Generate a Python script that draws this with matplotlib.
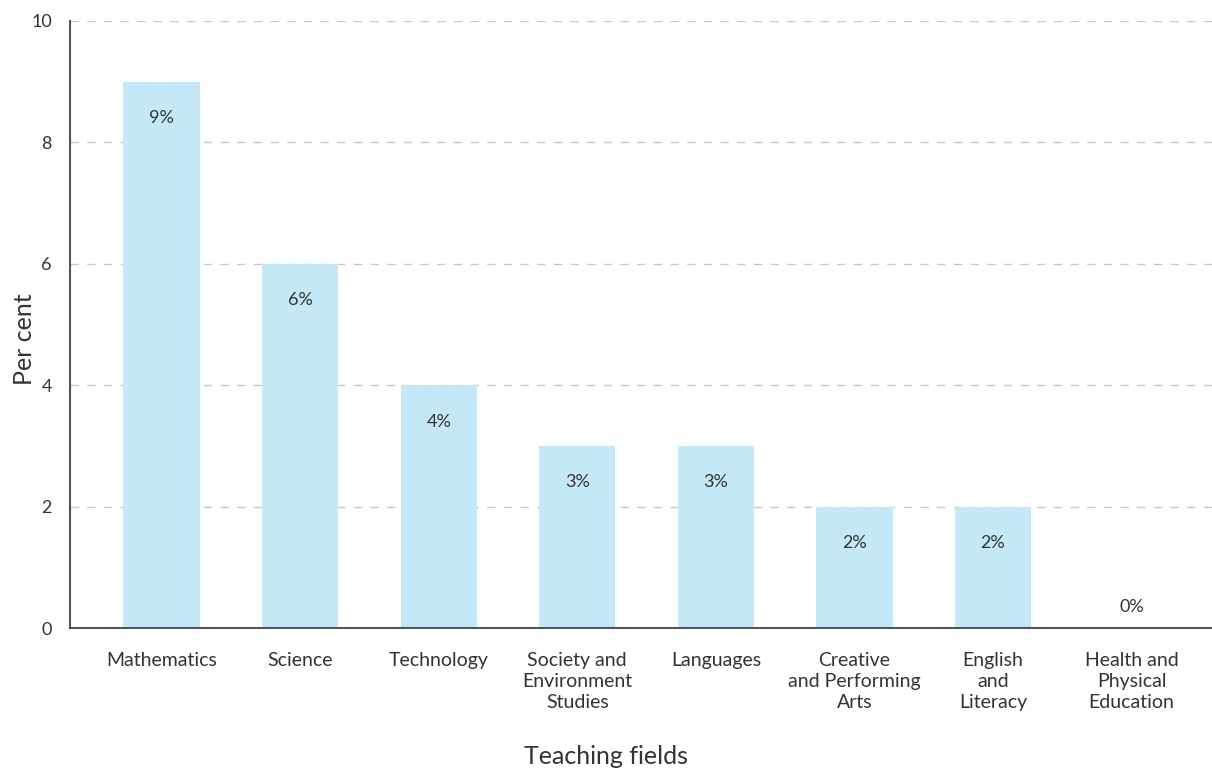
import matplotlib

matplotlib.use("Agg")
import matplotlib.pyplot as plt
import numpy as np

# data
fields = [
    "Mathematics",
    "Science",
    "Technology",
    "Society and\nEnvironment\nStudies",
    "Languages",
    "Creative\nand Performing\nArts",
    "English\nand\nLiteracy",
    "Health and\nPhysical\nEducation",
]
percent = [9, 6, 4, 3, 3, 2, 2, 0]
y_ticks = [0, 2, 4, 6, 8, 10]

plt.rcParams["font.family"] = ["Lato", "DejaVu Sans"]
text_color = "#333333"

fig = plt.figure(figsize=(12.12, 7.72), dpi=100)
ax = fig.add_axes([0.0578, 0.1865, 0.9422, 0.7863])

x = np.arange(len(fields))
ax.bar(x, percent, width=0.55, color="#c5e8f7", zorder=2)
# the zero bar shows up as a slightly heavier stretch of the baseline
ax.bar(x[-1], 0.02, width=0.75, color="#404040", zorder=3)

for xi, v in zip(x, percent):
    y = v - 0.6 if v > 0 else v + 0.35
    ax.text(xi, y, f"{v}%", ha="center", va="center", fontsize=13, color=text_color, zorder=4)

ax.set_xlim(-0.66, 7.58)
ax.set_ylim(0, 10)
ax.set_yticks(y_ticks)
ax.set_xticks(x)
ax.set_xticklabels(fields, fontsize=14, color=text_color, va="top", linespacing=1.3)
ax.tick_params(axis="x", length=0, pad=17)
ax.tick_params(axis="y", length=0, pad=13, labelsize=13, labelcolor=text_color)

ax.grid(axis="y", ls=(0, (6, 6)), color="#c8c8c8", lw=1, zorder=0)
for side in ("top", "right"):
    ax.spines[side].set_visible(False)
for side in ("left", "bottom"):
    ax.spines[side].set_color("#555555")
    ax.spines[side].set_linewidth(1.5)
    ax.spines[side].set_zorder(5)

fig.text(0.5, 0.005, "Teaching fields", ha="center", va="bottom", fontsize=18, color=text_color)
fig.text(0.02, 0.56, "Per cent", ha="center", va="center", rotation=90, fontsize=18, color=text_color)

fig.savefig("out.png", dpi=100)
